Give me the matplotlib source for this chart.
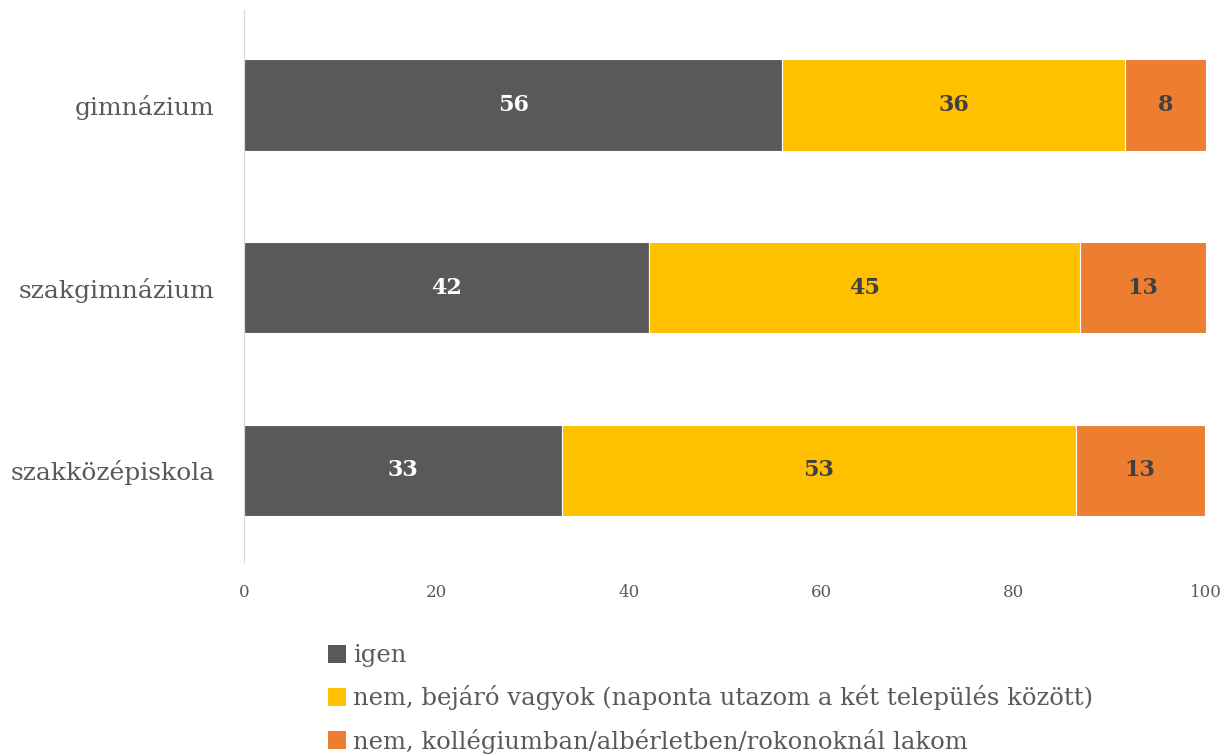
import matplotlib
matplotlib.use('Agg')
import matplotlib.pyplot as plt
from matplotlib.patches import Patch

plt.rcParams['font.family'] = ['DejaVu Serif']

categories = ['gimnázium', 'szakgimnázium', 'szakközépiskola']
igen = [56.0, 42.1, 33.1]
bejaro = [35.6, 44.8, 53.4]
kollegium = [8.4, 13.1, 13.4]
series_names = ['igen',
                'nem, bejáró vagyok (naponta utazom a két település között)',
                'nem, kollégiumban/albérletben/rokonoknál lakom']
colors = ['#595959', '#FFC000', '#ED7D31']
text_colors = ['white', '#404040', '#404040']

fig = plt.figure(figsize=(12.24, 7.56), dpi=100)
ax = fig.add_axes([0.1993, 0.257, 0.7857, 0.730])

y = list(range(len(categories)))
left = [0.0] * len(categories)
for vals, col, tcol in zip([igen, bejaro, kollegium], colors, text_colors):
    bars = ax.barh(y, vals, left=left, height=0.5, color=col,
                   edgecolor='white', linewidth=0.8)
    for b, v in zip(bars, vals):
        ax.text(b.get_x() + b.get_width() / 2, b.get_y() + b.get_height() / 2,
                '%.0f' % v, ha='center', va='center', color=tcol,
                fontsize=16, fontweight='bold')
    left = [l + v for l, v in zip(left, vals)]

ax.set_xlim(0, 100)
ax.set_ylim(2.5, -0.52)
ax.set_yticks(y)
ax.set_yticklabels(categories, fontsize=18, color='#595959')
ax.set_xticks(range(0, 101, 20))
ax.tick_params(axis='x', labelsize=12, colors='#595959', length=0, pad=16)
ax.tick_params(axis='y', length=0, pad=21)
for s in ['top', 'right', 'bottom']:
    ax.spines[s].set_visible(False)
ax.spines['left'].set_color('#D9D9D9')

handles = [Patch(facecolor=c) for c in colors]
leg = fig.legend(handles, series_names, loc='upper left',
                 bbox_to_anchor=(0.258, 0.164), frameon=False, fontsize=17.5,
                 handlelength=0.75, handleheight=0.75, handletextpad=0.3,
                 labelspacing=0.75, borderpad=0)
for t in leg.get_texts():
    t.set_color('#595959')

fig.savefig('out.png', dpi=100)
